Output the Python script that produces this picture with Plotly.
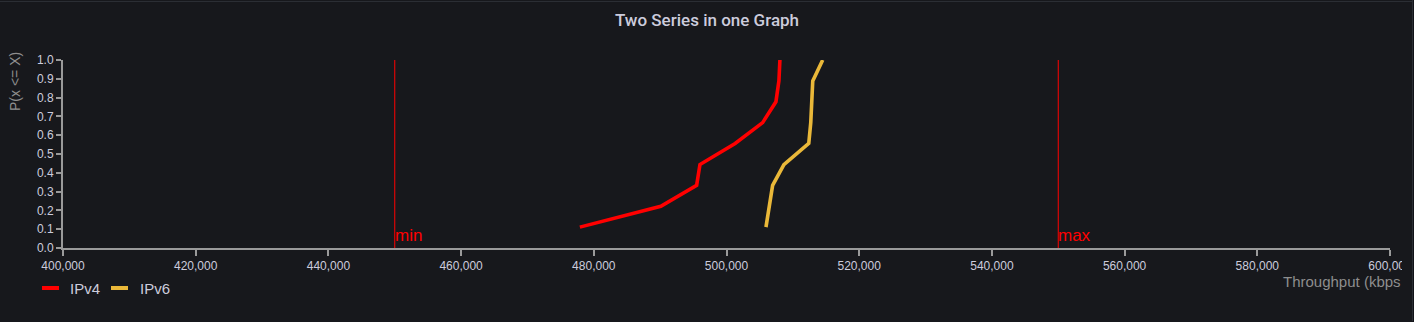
import plotly.graph_objects as go

# ---- data ----
ipv4_x = [477900, 490100, 495500, 496000, 501300, 505450, 507450, 507900, 508050]
ipv4_y = [0.111, 0.222, 0.333, 0.444, 0.556, 0.667, 0.778, 0.889, 1.0]
ipv6_x = [505950, 506450, 506950, 508650, 512400, 512700, 512850, 513000, 514500]
ipv6_y = [0.111, 0.222, 0.333, 0.444, 0.556, 0.667, 0.778, 0.889, 1.0]
series_names = ["IPv4", "IPv6"]
series_colors = ["#ff0000", "#eab839"]
min_x = 450000
max_x = 550000
x_range = [400000, 600000]
y_range = [0, 1]

W, H = 1414, 322
L, R, T, B = 63, 24, 60, 74
PW = W - L - R
PH = H - T - B

BG = "#17181c"
TXT = "#ccccdc"
GRAY = "#9a9a9a"
FONT = "Liberation Sans, Arial"

def px_x(p):
    return (p - L) / PW

def px_y(p):
    return (H - B - p) / PH

fig = go.Figure()
for xs, ys, nm, col in ((ipv4_x, ipv4_y, series_names[0], series_colors[0]),
                        (ipv6_x, ipv6_y, series_names[1], series_colors[1])):
    fig.add_trace(go.Scatter(x=xs, y=ys, mode="lines", name=nm, showlegend=False,
                             line=dict(color=col, width=3.6)))

for xv in (min_x, max_x):
    fig.add_shape(type="line", x0=xv, x1=xv, y0=0, y1=1, xref="x", yref="y",
                  line=dict(color="#ff0000", width=1), layer="above")

for xv, lab in ((min_x, "min"), (max_x, "max")):
    fig.add_annotation(x=xv, y=0, xref="x", yref="y", text=lab, showarrow=False,
                       xanchor="left", yanchor="bottom", xshift=-1, yshift=2,
                       borderpad=0,
                       font=dict(color="#ff0000", size=17, family=FONT))

# y axis title (rotated, top aligned)
fig.add_annotation(x=px_x(15), y=px_y(82), xref="paper", yref="paper", text="P(x <= X)",
                   showarrow=False, textangle=-90, xanchor="center", yanchor="middle",
                   font=dict(color="#8e8e8e", size=14, family=FONT))
# x axis title (cut at panel edge as in the source)
fig.add_annotation(x=px_x(1402), y=px_y(281), xref="paper", yref="paper",
                   text="Throughput (kbps", showarrow=False, xanchor="right",
                   yanchor="middle", borderpad=0,
                   font=dict(color="#8e8e8e", size=15, family=FONT))

# manual legend
leg_items = [(42, 69), (111, 139)]
for (lx, tx), nm, col in zip(leg_items, series_names, series_colors):
    fig.add_shape(type="line", xref="paper", yref="paper", x0=px_x(lx), x1=px_x(lx + 17),
                  y0=px_y(288), y1=px_y(288), line=dict(color=col, width=4))
    fig.add_annotation(x=px_x(tx), y=px_y(288), xref="paper", yref="paper", text=nm,
                       showarrow=False, xanchor="left", yanchor="middle", borderpad=0,
                       font=dict(color=TXT, size=15, family=FONT))

# cover to clip last tick label at panel edge
fig.add_shape(type="rect", xref="paper", yref="paper", x0=px_x(1402), x1=px_x(1414),
              y0=px_y(300), y1=px_y(250), fillcolor=BG, line=dict(width=0), layer="above")
# panel border
fig.add_shape(type="line", xref="paper", yref="paper", x0=px_x(1412.5), x1=px_x(1412.5),
              y0=px_y(0), y1=px_y(321), line=dict(color="#2b2e34", width=1), layer="above")
fig.add_shape(type="line", xref="paper", yref="paper", x0=px_x(0), x1=px_x(1412.5),
              y0=px_y(1.5), y1=px_y(1.5), line=dict(color="#2b2e34", width=1), layer="above")
fig.add_shape(type="rect", xref="paper", yref="paper", x0=px_x(1413), x1=px_x(1414),
              y0=px_y(0), y1=px_y(322), fillcolor="#111217", line=dict(width=0), layer="above")

fig.update_layout(
    width=W, height=H,
    margin=dict(l=L, r=R, t=T, b=B, autoexpand=False),
    paper_bgcolor=BG, plot_bgcolor=BG,
    font=dict(family=FONT, color=TXT, size=12),
    title=dict(text="Two Series in one Graph", x=0.5, xanchor="center",
               y=1 - 20 / H, yanchor="middle", yref="container",
               font=dict(family="Roboto", size=17, color=TXT, weight=500)),
    showlegend=False,
    xaxis=dict(range=x_range, dtick=20000, tick0=400000, tickformat=",", automargin=False,
               showgrid=False, zeroline=False, showline=True, linecolor=GRAY, linewidth=2,
               ticks="outside", ticklen=6, tickcolor=GRAY, tickwidth=2,
               tickfont=dict(size=12, color=TXT)),
    yaxis=dict(range=y_range, dtick=0.1, tick0=0, tickformat=".1f", automargin=False,
               showgrid=False, zeroline=False, showline=True, linecolor=GRAY, linewidth=2,
               ticks="outside", ticklen=5, tickcolor=GRAY, tickwidth=2,
               tickfont=dict(size=12, color=TXT)),
)

fig.write_html("out.html")
